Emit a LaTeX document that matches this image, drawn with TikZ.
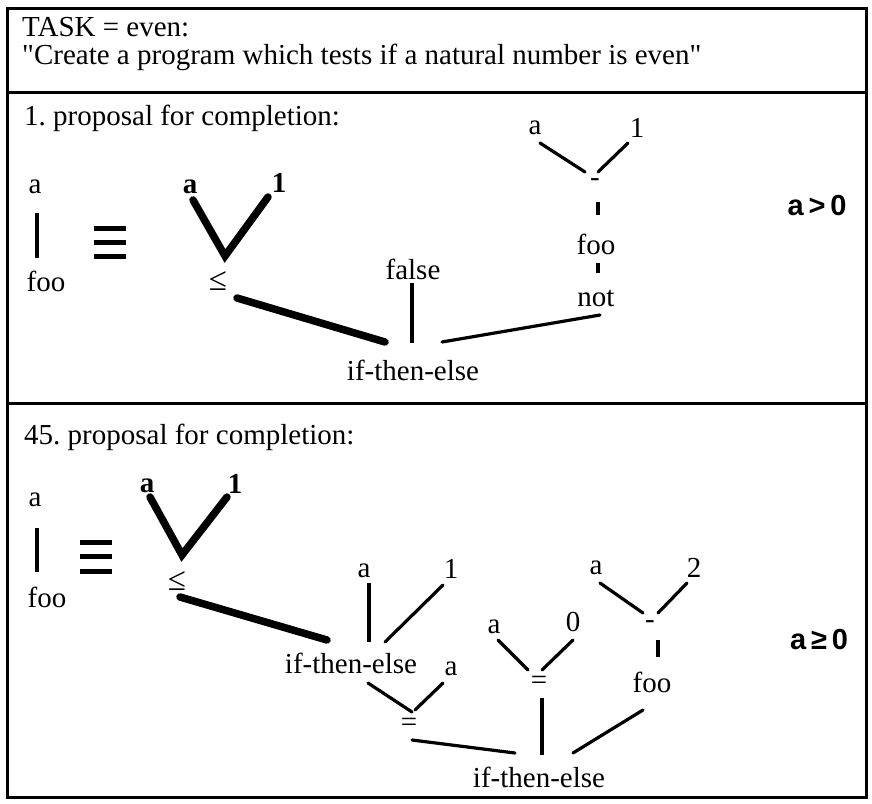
\documentclass[tikz,border=0pt]{standalone}
\usepackage{fontspec}
\setmainfont{Liberation Serif}[Ligatures=TeXOff]
\setsansfont{Liberation Sans}
\usetikzlibrary{calc}
\begin{document}
\frenchspacing
\begin{tikzpicture}[x=1pt,y=-1pt,
  lbl/.style={inner sep=0pt,font=\fontsize{29}{34}\selectfont},
  sym/.style={inner sep=0pt,font=\fontsize{33}{38}\selectfont},
  blbl/.style={inner sep=0pt,font=\fontsize{29}{34}\selectfont\bfseries},
  cond/.style={inner sep=0pt,font=\fontsize{29}{34}\selectfont\sffamily\bfseries},
  frame/.style={line width=3pt},
  edge/.style={line width=3.2pt,line cap=round},
  thickedge/.style={line width=7.5pt,line cap=round,line join=miter},
  bar/.style={line width=5pt}]
\useasboundingbox (0,0) rectangle (872,803);
% frame and dividers
\draw[frame] (7,8) rectangle (866,797);
\draw[frame] (7,92) -- (866,92);
\draw[frame] (7,403) -- (866,403);
% task box
\node[lbl,anchor=west] (t1) at (22,27) {TASK = even:};
\node[lbl,anchor=west] (t2) at (22,57) {"Create a program which tests if a natural number is even"};
% ---------- proposal 1 ----------
\node[lbl,anchor=west] (p1) at (24,118) {1. proposal for completion:};
\node[lbl] (A1) at (35,187) {a};
\node[lbl] (F1) at (46,281) {foo};
\draw[edge,line cap=butt] ([shift={(2,26)}]A1.center) -- ([shift={(-9,-23)}]F1.center);
\coordinate (E1) at (110,242);
\draw[bar] ([shift={(-16,-14)}]E1) -- ([shift={(16,-14)}]E1);
\draw[bar] ([shift={(-16,0)}]E1) -- ([shift={(16,0)}]E1);
\draw[bar] ([shift={(-16,14)}]E1) -- ([shift={(16,14)}]E1);
\node[blbl] (B1a) at (190,187) {a};
\node[blbl] (B1one) at (279,183) {1};
\coordinate (v1) at (225,256);
\draw[thickedge] ([shift={(3,13)}]B1a.center) -- (v1) -- ([shift={(-11,14)}]B1one.center);
\node[sym] (LE1) at (218,281) {≤};
\node[lbl] (ITE1) at (413,370) {if-then-else};
\draw[thickedge] ([shift={(19,17)}]LE1.center) -- ([shift={(-28,-28)}]ITE1.center);
\node[lbl] (FA1) at (413,269) {false};
\draw[edge,line cap=butt] ([shift={(-1,14)}]FA1.center) -- ([shift={(-1,-27)}]ITE1.center);
\node[lbl] (RA1) at (535,128) {a};
\node[lbl] (R11) at (637,128) {1};
\node[lbl] (M1) at (595,183) {-};
\node[lbl] (FO1) at (596,244) {foo};
\node[lbl] (NOT1) at (596,298) {not};
\draw[edge] ([shift={(5,15)}]RA1.center) -- ([shift={(-10,-11)}]M1.center);
\draw[edge] ([shift={(-9,15)}]R11.center) -- ([shift={(3,-11)}]M1.center);
\draw[edge,line cap=butt] ([shift={(2,-42)}]FO1.center) -- ([shift={(2,-29)}]FO1.center);
\draw[edge,line cap=butt] ([shift={(2,19)}]FO1.center) -- ([shift={(2,-25)}]NOT1.center);
\draw[edge] ([shift={(4,17)}]NOT1.center) -- ([shift={(29,-28)}]ITE1.center);
\node[cond] (AG1) at (817,206) {a\,>\,0};
% ---------- proposal 45 ----------
\node[lbl,anchor=west] (p2) at (24,437) {45. proposal for completion:};
\node[lbl] (A2) at (35,500) {a};
\node[lbl] (F2) at (47,597) {foo};
\draw[edge,line cap=butt] ([shift={(2,28)}]A2.center) -- ([shift={(-10,-25)}]F2.center);
\coordinate (E2) at (96,556);
\draw[bar] ([shift={(-16,-14)}]E2) -- ([shift={(16,-14)}]E2);
\draw[bar] ([shift={(-16,0)}]E2) -- ([shift={(16,0)}]E2);
\draw[bar] ([shift={(-16,15)}]E2) -- ([shift={(16,15)}]E2);
\node[blbl] (B2a) at (147,486) {a};
\node[blbl] (B2one) at (235,484) {1};
\coordinate (v2) at (182,555);
\draw[thickedge] ([shift={(3,11)}]B2a.center) -- (v2) -- ([shift={(-8,13)}]B2one.center);
\node[sym] (LE2) at (177,581) {≤};
\node[lbl] (ITE2) at (351,663) {if-then-else};
\draw[thickedge] ([shift={(3,16)}]LE2.center) -- ([shift={(-24,-23)}]ITE2.center);
\node[lbl] (A3) at (364,571) {a};
\node[lbl] (ONE3) at (451,569) {1};
\draw[edge,line cap=butt] ([shift={(5,12)}]A3.center) -- ([shift={(18,-21)}]ITE2.center);
\draw[edge] ([shift={(34,-21)}]ITE2.center) -- ([shift={(-8,16)}]ONE3.center);
\node[lbl] (A4) at (451,669) {a};
\node[lbl] (EQ3) at (409,725) {=};
\draw[edge] ([shift={(17,20)}]ITE2.center) -- ([shift={(3,-13)}]EQ3.center);
\draw[edge] ([shift={(-8,14)}]A4.center) -- ([shift={(6,-15)}]EQ3.center);
\node[lbl] (ITE3) at (539,777) {if-then-else};
\draw[edge] ([shift={(3,15)}]EQ3.center) -- ([shift={(-24,-24)}]ITE3.center);
\node[lbl] (A5) at (494,627) {a};
\node[lbl] (Z5) at (573,622) {0};
\node[lbl] (EQ4) at (539,683) {=};
\draw[edge] ([shift={(4,13)}]A5.center) -- ([shift={(-11,-13)}]EQ4.center);
\draw[edge] ([shift={(0,18)}]Z5.center) -- ([shift={(3,-13)}]EQ4.center);
\draw[edge,line cap=butt] ([shift={(3,15)}]EQ4.center) -- ([shift={(3,-22)}]ITE3.center);
\node[lbl] (A6) at (596,568) {a};
\node[lbl] (T6) at (694,568) {2};
\node[lbl] (M6) at (650,625) {-};
\node[lbl] (FO6) at (652,682) {foo};
\draw[edge] ([shift={(4,15)}]A6.center) -- ([shift={(-7,-12)}]M6.center);
\draw[edge] ([shift={(-7,15)}]T6.center) -- ([shift={(8,-12)}]M6.center);
\draw[edge,line cap=butt] ([shift={(8,15)}]M6.center) -- ([shift={(6,-25)}]FO6.center);
\draw[edge] ([shift={(-9,28)}]FO6.center) -- ([shift={(34,-24)}]ITE3.center);
\node[cond] (AG2) at (819,640) {a\,≥\,0};
\end{tikzpicture}
\end{document}
